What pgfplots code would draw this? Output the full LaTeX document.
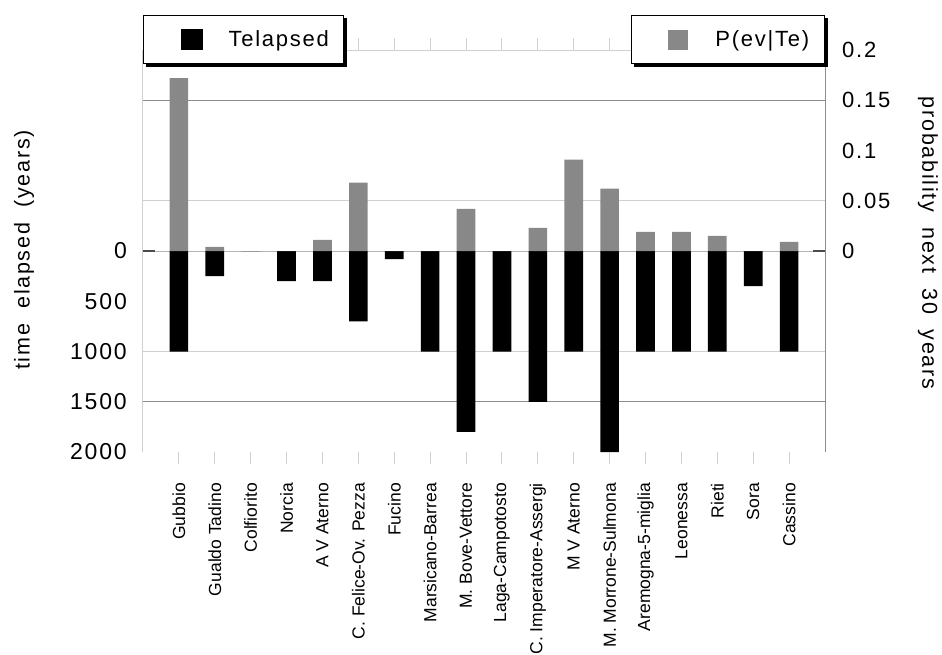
\documentclass[border=0pt]{standalone}
\usepackage{pgfplots}
\pgfplotsset{compat=1.18}
\usepackage{fontspec}
\setmainfont{Liberation Sans}
\newfontfamily\spacedfont[LetterSpace=8]{Liberation Sans}
\definecolor{pgray}{HTML}{888888}
\definecolor{lgray}{HTML}{D0D0D0}
\definecolor{mgray}{HTML}{8C8C8C}
\definecolor{zgray}{HTML}{B4B4B4}
\newcommand{\tickfnt}{\spacedfont\fontsize{23bp}{27bp}\selectfont}
\newcommand{\legfnt}{\spacedfont\fontsize{22bp}{26bp}\selectfont}
\newcommand{\labfnt}{\spacedfont\fontsize{21.5bp}{25bp}\selectfont}
\pgfplotsset{
  telleg/.style={legend image code/.code={\path[fill=none,draw=none] (0bp,-24bp) rectangle (85bp,24bp);
    \fill[##1] (37bp,-10.5bp) rectangle (59bp,10.5bp);}},
  probleg/.style={legend image code/.code={\path[fill=none,draw=none] (0bp,-24bp) rectangle (84bp,24bp);
    \fill[##1] (37bp,-10bp) rectangle (57bp,10bp);}},
}
\begin{document}
\begin{tikzpicture}
\useasboundingbox (-143bp,-203bp) rectangle (799bp,452bp);
% ---------------- left axis: time elapsed ----------------
\begin{axis}[
  at={(0,0)}, anchor=south west,
  scale only axis, width=682bp, height=402bp,
  xmin=-1, xmax=18,
  ymin=-2000, ymax=2000, y dir=reverse,
  axis x line*=top, axis y line*=left,
  axis line style={lgray, line width=1bp},
  xtick={0,...,17}, xticklabels={},
  tick align=inside, major tick length=12bp,
  x tick style={lgray, line width=1bp},
  ytick={0,500,1000,1500,2000},
  yticklabels={0,500,1000,1500,2000},
  y tick style={draw=none},
  yticklabel style={font=\tickfnt, anchor=east, inner sep=0pt, xshift=-16bp},
  ylabel={time\ \ elapsed\ \ (years)},
  every axis y label/.style={at={(axis description cs:-0.1745,0.5025)}, rotate=90, anchor=center, font=\labfnt},
  ybar, bar width=0.52,
  legend style={name=legL, at={(0,1.0871)}, anchor=north west, draw=black, line width=1.2bp,
    fill=white, inner xsep=0pt, inner ysep=0pt, font=\legfnt,
    nodes={inner sep=0pt}},
]
\draw[lgray, line width=1bp] (axis cs:-1,-500) -- (axis cs:18,-500);
\draw[mgray, line width=1bp] (axis cs:-1,-1500) -- (axis cs:18,-1500);
\draw[lgray, line width=1bp] (axis cs:-1,1000) -- (axis cs:18,1000);
\draw[mgray, line width=1bp] (axis cs:-1,1500) -- (axis cs:18,1500);
\draw[zgray, line width=1bp] (axis cs:-1,0) -- (axis cs:18,0);
\draw[black!70, line width=1.3bp] (axis cs:-1,0) -- ([xshift=12bp]axis cs:-1,0);
\draw[black!70, line width=1.3bp] (axis cs:18,0) -- ([xshift=-12bp]axis cs:18,0);
\addplot[fill=black, draw=none, telleg]
  coordinates {
  (0,1000) (1,250) (2,0) (3,300) (4,300) (5,700) (6,80) (7,1000) (8,1800)
  (9,1000) (10,1500) (11,1000) (12,2000) (13,1000) (14,1000) (15,1000) (16,350) (17,1000)};
\legend{\makebox[115bp][l]{Telapsed}}
\end{axis}
% ---------------- right axis: probability ----------------
\begin{axis}[
  at={(0,0)}, anchor=south west,
  scale only axis, width=682bp, height=402bp,
  xmin=-1, xmax=18, ymin=-0.2, ymax=0.2,
  axis x line*=bottom, axis y line*=right,
  x axis line style={draw=none},
  y axis line style={mgray, line width=1bp},
  xtick={0,...,17},
  xticklabels={Gubbio, Gualdo Tadino, Colfiorito, Norcia, A V Aterno,
    {C. Felice-Ov. Pezza}, Fucino, Marsicano-Barrea, M. Bove-Vettore,
    Laga-Campotosto, C. Imperatore-Assergi, M V Aterno, M. Morrone-Sulmona,
    Aremogna-5-miglia, Leonessa, Rieti, Sora, Cassino},
  tick align=inside, major tick length=12bp,
  x tick style={lgray, line width=1bp},
  xticklabel style={yshift=-19bp, rotate=90, anchor=east, font=\fontsize{17.5bp}{20bp}\selectfont, inner sep=0pt},
  ytick={0,0.05,0.1,0.15,0.2}, yticklabels={0,0.05,0.1,0.15,0.2},
  y tick style={draw=none},
  yticklabel style={anchor=west, inner sep=0pt, xshift=17bp, font=\legfnt},
  ylabel={probability\ \ next\ \ 30\ \ years},
  every axis y label/.style={at={(axis description cs:1.151,0.52)}, rotate=-90, anchor=center, font=\labfnt},
  ybar, bar width=0.52,
  legend style={name=legR, at={(1,1.0871)}, anchor=north east, draw=black, line width=1.2bp,
    fill=white, inner xsep=0pt, inner ysep=0pt, font=\legfnt,
    nodes={inner sep=0pt}},
]
\addplot[fill=pgray, draw=none, probleg]
  coordinates {
  (0,0.172) (1,0.004) (2,0) (3,0) (4,0.011) (5,0.068) (6,0) (7,0) (8,0.042)
  (9,0) (10,0.023) (11,0.091) (12,0.062) (13,0.019) (14,0.019) (15,0.015) (16,0) (17,0.009)};
\legend{\makebox[109bp][l]{P(ev|Te)}}
\end{axis}
% drop shadows of the two legend boxes
\foreach \n in {legL,legR} {
  \fill[black] ([xshift=3bp,yshift=-3bp]\n.south west) rectangle ([xshift=3bp]\n.south east);
  \fill[black] ([yshift=-3bp]\n.south east) rectangle ([xshift=3bp,yshift=-3bp]\n.north east);
}
\end{tikzpicture}
\end{document}
